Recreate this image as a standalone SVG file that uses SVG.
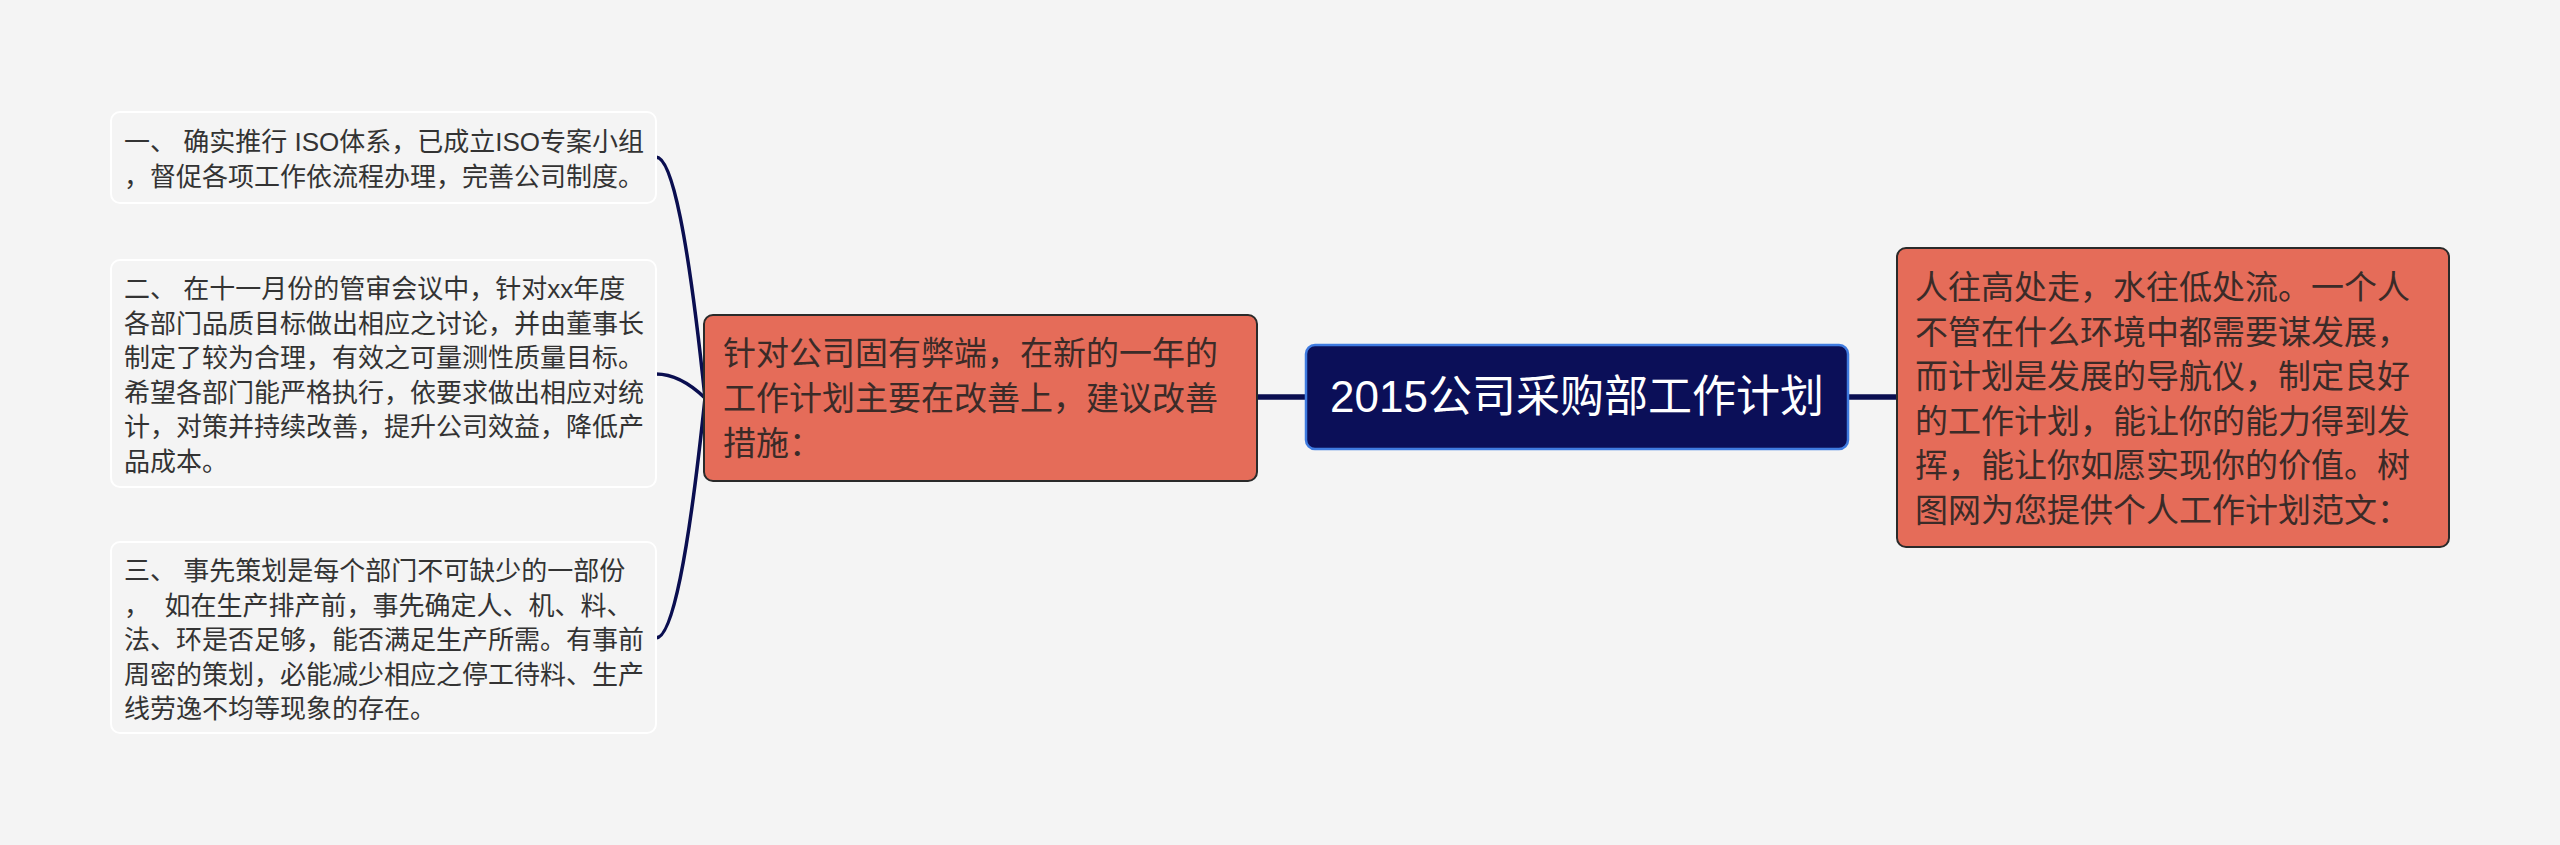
<svg xmlns="http://www.w3.org/2000/svg" width="2560" height="845" viewBox="0 0 2560 845">
<defs>
<style>
.bg{fill:#f4f4f4}
.leaf rect{fill:#f4f4f4;stroke:#ffffff;stroke-width:2}
.leaf text{font-family:"Liberation Sans","Noto Sans CJK SC",sans-serif;font-size:26px;fill:#333333;white-space:pre}
.sub rect{fill:#e56c59;stroke:#2a2a2a;stroke-width:2}
.sub text{font-family:"Liberation Sans","Noto Sans CJK SC",sans-serif;font-size:33px;fill:#3b2b28;white-space:pre}
.root rect{fill:#0b0f58;stroke:#3f7be0;stroke-width:2.5}
.root text{font-family:"Liberation Sans","Noto Sans CJK SC",sans-serif;font-size:44px;fill:#ffffff}
.thin{fill:none;stroke:#0a0e50;stroke-width:3.5;stroke-linecap:round}
.thick{fill:none;stroke:#0a0e50;stroke-width:5.5}
</style>
</defs>
<rect class="bg" x="0" y="0" width="2560" height="845"/>
<g id="connectors">
<path class="thin" d="M705 398 Q680 157 656 157"/>
<path class="thin" d="M705 398 Q680 374 656 374"/>
<path class="thin" d="M705 398 Q680 638 656 638"/>
<line class="thick" x1="1257" y1="397" x2="1306" y2="397"/>
<line class="thick" x1="1848" y1="397" x2="1897" y2="397"/>
</g>
<g id="node-1" class="leaf">
<rect x="111" y="112" width="545" height="91" rx="9"/>
<text x="124" y="151">一、 确实推行 ISO体系，已成立ISO专案小组</text>
<text x="124" y="186">，督促各项工作依流程办理，完善公司制度。</text>
</g>
<g id="node-2" class="leaf">
<rect x="111" y="260" width="545" height="227" rx="9"/>
<text x="124" y="298">二、 在十一月份的管审会议中，针对xx年度</text>
<text x="124" y="332.5">各部门品质目标做出相应之讨论，并由董事长</text>
<text x="124" y="367">制定了较为合理，有效之可量测性质量目标。</text>
<text x="124" y="401.5">希望各部门能严格执行，依要求做出相应对统</text>
<text x="124" y="436">计，对策并持续改善，提升公司效益，降低产</text>
<text x="124" y="470.5">品成本。</text>
</g>
<g id="node-3" class="leaf">
<rect x="111" y="542" width="545" height="191" rx="9"/>
<text x="124" y="580">三、 事先策划是每个部门不可缺少的一部份</text>
<text x="124" y="614.5">，  如在生产排产前，事先确定人、机、料、</text>
<text x="124" y="649">法、环是否足够，能否满足生产所需。有事前</text>
<text x="124" y="683.5">周密的策划，必能减少相应之停工待料、生产</text>
<text x="124" y="718">线劳逸不均等现象的存在。</text>
</g>
<g id="node-4" class="sub">
<rect x="704" y="315" width="553" height="166" rx="9"/>
<text x="723" y="365">针对公司固有弊端，在新的一年的</text>
<text x="723" y="410">工作计划主要在改善上，建议改善</text>
<text x="723" y="455">措施：</text>
</g>
<g id="root" class="root">
<rect x="1306" y="345" width="542" height="104" rx="9"/>
<text x="1577" y="412" text-anchor="middle">2015公司采购部工作计划</text>
</g>
<g id="node-5" class="sub">
<rect x="1897" y="248" width="552" height="299" rx="9"/>
<text x="1915" y="299">人往高处走，水往低处流。一个人</text>
<text x="1915" y="343.5">不管在什么环境中都需要谋发展，</text>
<text x="1915" y="388">而计划是发展的导航仪，制定良好</text>
<text x="1915" y="432.5">的工作计划，能让你的能力得到发</text>
<text x="1915" y="477">挥，能让你如愿实现你的价值。树</text>
<text x="1915" y="521.5">图网为您提供个人工作计划范文：</text>
</g>
</svg>
